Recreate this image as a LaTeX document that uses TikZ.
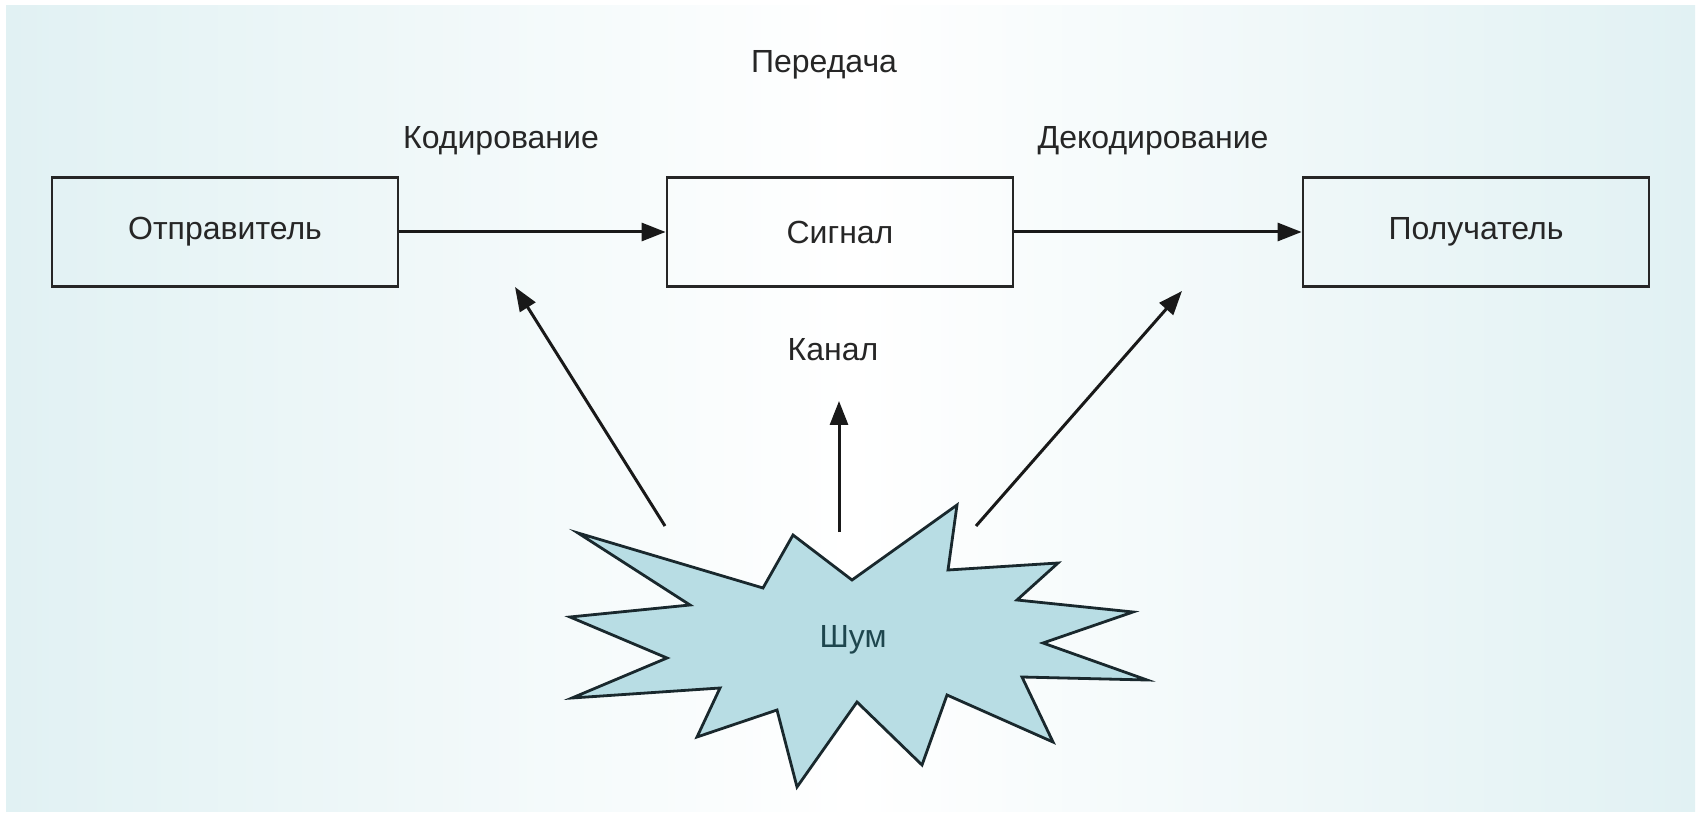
\documentclass[tikz,border=0pt]{standalone}
\usepackage{fontspec}
\setmainfont{Liberation Sans}
\usetikzlibrary{arrows.meta}
\definecolor{bgedge}{RGB}{225,241,243}
\definecolor{burstfill}{RGB}{184,221,228}
\definecolor{burstline}{RGB}{25,40,45}
\definecolor{noisetext}{RGB}{30,70,78}
\begin{document}
\begin{tikzpicture}[x=0.5pt,y=-0.5pt,
  box/.style={draw=black!85,line width=1.4pt,minimum width=173pt,minimum height=54.5pt,inner sep=0pt,font=\fontsize{16}{18}\selectfont,text=black!85},
  lbl/.style={font=\fontsize{16}{18}\selectfont,text=black!85,inner sep=0pt},
  conn/.style={draw=black!90,line width=1.5pt,-{Triangle[length=12pt,width=9pt]}}]
\useasboundingbox (0,0) rectangle (1701,817);
\fill[white] (0,0) rectangle (1701,817);
\shade[left color=bgedge,right color=bgedge,middle color=white] (6,6) rectangle (1695,811);

\node[box] (snd) at (225,232) {Отправитель};
\node[box] (sig) at (840,232) {Сигнал};
\node[box] (rcv) at (1476,232) {Получатель};

\node[lbl] (tx) at (824,65) {Передача};
\node[lbl] (enc) at (501,141) {Кодирование};
\node[lbl] (dec) at (1153,141) {Декодирование};
\node[lbl] (chan) at (833,350) {Канал};

\draw[conn] (snd.east) -- (sig.west);
\draw[conn] (sig.east) -- (rcv.west);

\draw[fill=burstfill,draw=burstline,line width=1.4pt,line join=miter]
  (578,533) -- (763,588) -- (793,535) -- (852,580) -- (957,505) -- (948,570)
  -- (1058,563) -- (1017,600) -- (1133,612) -- (1043,643) -- (1147,680)
  -- (1022,677) -- (1053,742) -- (947,695) -- (922,765) -- (857,702)
  -- (797,787) -- (777,710) -- (697,737) -- (720,688) -- (572,698)
  -- (667,658) -- (570,617) -- (690,605) -- cycle;
\node[lbl,text=noisetext] (noise) at (853,640) {Шум};

\coordinate (nL) at (665,526);
\coordinate (tL) at (515,287);
\coordinate (nM) at (839,532);
\coordinate (tM) at (839,401);
\coordinate (nR) at (976,526);
\coordinate (tR) at (1182,291);
\draw[conn] (nL) -- (tL);
\draw[conn] (nM) -- (tM);
\draw[conn] (nR) -- (tR);
\end{tikzpicture}
\end{document}
